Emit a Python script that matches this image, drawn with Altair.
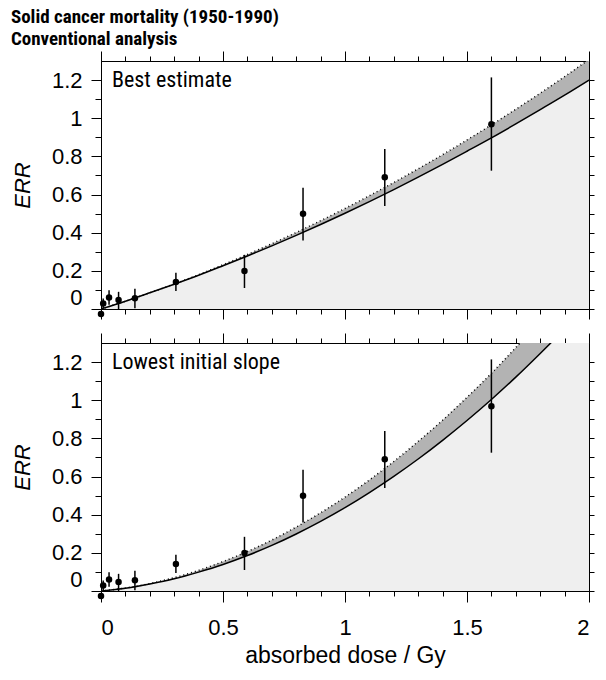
import altair as alt
import pandas as pd

# ---- data points ----
dose = [0.0, 0.009, 0.033, 0.072, 0.139, 0.307, 0.588, 0.828, 1.163, 1.600]
err = [-0.026, 0.029, 0.060, 0.047, 0.056, 0.142, 0.199, 0.499, 0.691, 0.969]
err_lo = [-0.026, 0.005, 0.022, 0.000, 0.004, 0.094, 0.110, 0.359, 0.540, 0.725]
err_hi = [-0.026, 0.055, 0.098, 0.090, 0.106, 0.190, 0.284, 0.636, 0.839, 1.214]

# ---- fitted curves ----
curve_dose = [0.0, 0.1, 0.2, 0.3, 0.4, 0.5, 0.6, 0.7, 0.8, 0.9, 1.0,
              1.1, 1.2, 1.3, 1.4, 1.5, 1.6, 1.7, 1.8, 1.9, 2.0]
best_lower = [0.0, 0.041, 0.085, 0.130, 0.177, 0.227, 0.278, 0.331, 0.386, 0.443, 0.502,
              0.563, 0.626, 0.691, 0.758, 0.827, 0.897, 0.970, 1.045, 1.121, 1.200]
best_upper = [0.0, 0.041, 0.085, 0.131, 0.180, 0.232, 0.286, 0.342, 0.401, 0.463, 0.527,
              0.594, 0.663, 0.735, 0.809, 0.886, 0.965, 1.047, 1.131, 1.218, 1.308]
low_lower = [0.0, 0.015, 0.037, 0.064, 0.099, 0.139, 0.186, 0.239, 0.299, 0.365, 0.437,
             0.516, 0.601, 0.692, 0.790, 0.894, 1.004, 1.121, 1.245, 1.374, 1.510]
low_upper = [0.0, 0.016, 0.039, 0.070, 0.108, 0.154, 0.207, 0.267, 0.335, 0.410, 0.492,
             0.582, 0.679, 0.784, 0.895, 1.015, 1.141, 1.276, 1.417, 1.566, 1.722]

panel_labels = ["Best estimate", "Lowest initial slope"]
title_lines = ["Solid cancer mortality (1950-1990)", "Conventional analysis"]
x_title = "absorbed dose / Gy"
y_title = "ERR"

x_ticks = [0.0, 0.1, 0.2, 0.3, 0.4, 0.5, 0.6, 0.7, 0.8, 0.9, 1.0,
           1.1, 1.2, 1.3, 1.4, 1.5, 1.6, 1.7, 1.8, 1.9, 2.0]
y_ticks = [0.0, 0.1, 0.2, 0.3, 0.4, 0.5, 0.6, 0.7, 0.8, 0.9, 1.0, 1.1, 1.2]

NARROW = "Roboto Condensed"
SANS = "Liberation Sans"

MAJOR_X = "abs(datum.value*2 - round(datum.value*2)) < 1e-6"
MAJOR_Y = "abs(datum.value*5 - round(datum.value*5)) < 1e-6"


def panel(lower, upper, label, bottom):
    pts = pd.DataFrame({"dose": dose, "err": err, "lo": err_lo, "hi": err_hi})
    cur = pd.DataFrame({"dose": curve_dose, "lower": lower, "upper": upper})
    lab = pd.DataFrame({"label": [label]})
    xs = alt.Scale(domain=[0, 2], nice=False, zero=False)
    ys = alt.Scale(domain=[0, 1.3], nice=False, zero=False)

    common = dict(grid=False, ticks=True, tickColor="black", tickWidth=1,
                  domainColor="black", labelColor="black", titleColor="black",
                  labelFont=SANS, titleFont=SANS)
    x_axis_bottom = alt.Axis(
        orient="bottom", values=x_ticks,
        tickSize={"condition": {"test": MAJOR_X, "value": 11 if bottom else 10}, "value": 5},
        labels=bottom, labelExpr=f"{MAJOR_X} ? format(datum.value, '~g') : ''",
        labelPadding=15, labelFontSize=22,
        titleFontSize=23, titlePadding=6, titleFontWeight="normal", **common,
    )
    x_axis_top = alt.Axis(
        orient="top", values=x_ticks, labels=False,
        tickSize={"condition": {"test": MAJOR_X, "value": 10}, "value": 5}, **common,
    )
    y_axis_left = alt.Axis(
        orient="left", values=y_ticks,
        tickSize={"condition": {"test": MAJOR_Y, "value": 10}, "value": 6},
        labelExpr=f"{MAJOR_Y} ? format(datum.value, '~g') : ''",
        labelFlush=True, labelPadding=9, labelFontSize=22,
        titleFontSize=22, titleFontStyle="italic", titleFontWeight="normal", titlePadding=17,
        **common,
    )
    y_axis_right = alt.Axis(orient="right", values=y_ticks, labels=False, tickSize=5, **common)

    light = alt.Chart(cur).mark_area(color="#efefef", clip=True, interpolate="monotone").encode(
        x=alt.X("dose:Q", scale=xs, axis=x_axis_bottom, title=x_title if bottom else None),
        y=alt.Y("lower:Q", scale=ys, axis=y_axis_left, title=y_title),
        y2=alt.datum(0),
    )
    dark = alt.Chart(cur).mark_area(color="#b3b3b3", clip=True, interpolate="monotone").encode(
        x=alt.X("dose:Q", axis=None),
        y=alt.Y("lower:Q", axis=None),
        y2="upper:Q",
    )
    line_lo = alt.Chart(cur).mark_line(color="black", strokeWidth=1.5, clip=True,
                                       interpolate="monotone").encode(
        x=alt.X("dose:Q", axis=None), y=alt.Y("lower:Q", axis=None))
    line_hi = alt.Chart(cur).mark_line(color="black", strokeWidth=1.5, strokeDash=[1, 3],
                                       clip=True, interpolate="monotone").encode(
        x=alt.X("dose:Q", axis=None), y=alt.Y("upper:Q", axis=None))
    bars = alt.Chart(pts).mark_rule(color="black", strokeWidth=1.5).encode(
        x=alt.X("dose:Q", axis=None), y=alt.Y("lo:Q", axis=None), y2="hi:Q")
    dots = alt.Chart(pts).mark_circle(size=42, color="black", opacity=1).encode(
        x=alt.X("dose:Q", axis=None), y=alt.Y("err:Q", axis=None))
    text = alt.Chart(lab).mark_text(align="left", baseline="alphabetic", font=NARROW,
                                    fontSize=22, color="black").encode(
        text="label:N", x=alt.value(11), y=alt.value(26))
    mirror = alt.Chart(pts).mark_point(opacity=0).encode(
        x=alt.X("dose:Q", scale=xs, axis=x_axis_top, title=None),
        y=alt.Y("err:Q", scale=ys, axis=y_axis_right, title=None),
    )
    return alt.layer(light, dark, line_lo, line_hi, bars, dots, text, mirror).resolve_axis(
        x="independent", y="independent"
    ).properties(width=488, height=248)


top = panel(best_lower, best_upper, panel_labels[0], False)
bot = panel(low_lower, low_upper, panel_labels[1], True)

chart = alt.vconcat(top, bot, spacing=12).properties(
    title=alt.TitleParams(title_lines, anchor="start", font=NARROW, fontSize=19,
                          fontWeight="bold", lineHeight=22, color="black", offset=1),
    padding={"left": 2, "top": 0, "right": 0, "bottom": 0},
).configure_view(stroke="black", strokeWidth=1)

chart.save("out.html", embed_options={"renderer": "svg", "actions": False})
